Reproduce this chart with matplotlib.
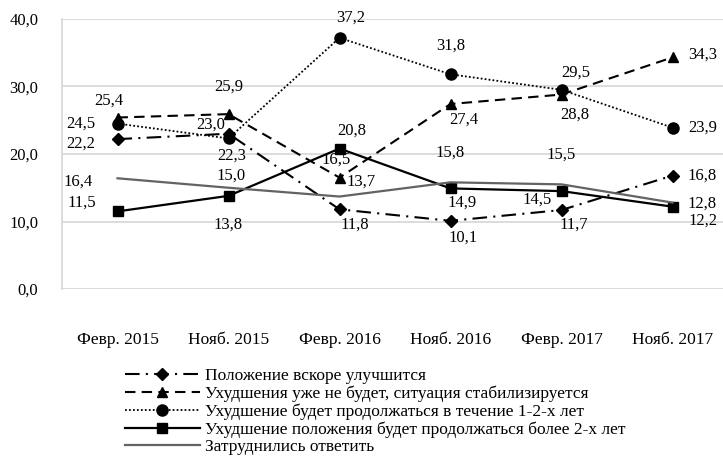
import matplotlib
matplotlib.use('Agg')
import matplotlib.pyplot as plt
import numpy as np

plt.rcParams['font.family'] = ['Liberation Serif', 'DejaVu Serif']

periods = ['Февр. 2015', 'Нояб. 2015', 'Февр. 2016', 'Нояб. 2016', 'Февр. 2017', 'Нояб. 2017']

improve_soon = [22.2, 23.0, 11.8, 10.1, 11.7, 16.8]
stabilize = [25.4, 25.9, 16.5, 27.4, 28.8, 34.3]
worse_1_2 = [24.5, 22.3, 37.2, 31.8, 29.5, 23.9]
worse_more_2 = [11.5, 13.8, 20.8, 14.9, 14.5, 12.2]
hard_to_say = [16.4, 15.0, 13.7, 15.8, 15.5, 12.8]

names = [
    'Положение вскоре улучшится',
    'Ухудшения уже не будет, ситуация стабилизируется',
    'Ухудшение будет продолжаться в течение 1-2-х лет',
    'Ухудшение положения будет продолжаться более 2-х лет',
    'Затруднились ответить',
]

# label offsets in pixels (dx, dy), dy positive = up
label_offsets = [
    [(-37, -5), (-18, 9), (15, -15), (13, -17), (12, -15), (30, 0)],
    [(-9, 17), (0, 27), (-3, 18), (13, -16), (13, -20), (30, 3)],
    [(-37, 0), (3, -17), (11, 20), (0, 29), (14, 17), (30, 0)],
    [(-36, 9), (0, -29), (12, 18), (12, -14), (-24, -9), (30, -14)],
    [(-39, -3), (3, 12), (22, 15), (0, 30), (0, 30), (30, -1)],
]

styles = [
    dict(color='black', lw=1.5, dashes=(7, 3, 1, 3), marker='D', ms=6),
    dict(color='black', lw=1.5, dashes=(5, 3), marker='^', ms=7.5),
    dict(color='black', lw=1.3, dashes=(1, 1.2), marker='o', ms=8),
    dict(color='black', lw=1.6, linestyle='-', marker='s', ms=7),
    dict(color='#636363', lw=1.6, linestyle='-', marker=None, ms=0),
]

fig = plt.figure(figsize=(7.23, 4.61), dpi=100)
ax = fig.add_axes([62 / 723, 0.373, 666 / 723, 0.586])

x = np.arange(len(periods))
series = [improve_soon, stabilize, worse_1_2, worse_more_2, hard_to_say]
for vals, name, st, offs in zip(series, names, styles, label_offsets):
    ax.plot(x, vals, label=name, markeredgecolor=st['color'], markerfacecolor=st['color'], **st)
    for xi, v, (dx, dy) in zip(x, vals, offs):
        ax.annotate(f'{v:.1f}'.replace('.', ','), (xi, v), xytext=(dx, dy),
                    textcoords='offset pixels', ha='center', va='center',
                    fontsize=12, color='black')

ax.set_xlim(-0.5, 5.5)
ax.set_ylim(0, 40)
ax.set_yticks([0, 10, 20, 30, 40])
ax.set_yticklabels([f'{t:.1f}'.replace('.', ',') for t in [0, 10, 20, 30, 40]], fontsize=12)
ax.set_xticks(x)
ax.set_xticklabels(periods, fontsize=12.5)
ax.tick_params(axis='both', length=0)
ax.tick_params(axis='y', pad=17)
ax.tick_params(axis='x', pad=31)
ax.grid(which='major', axis='y', color='#d9d9d9', lw=1.3)
ax.set_axisbelow(True)
for s in ['top', 'right', 'bottom']:
    ax.spines[s].set_visible(False)
ax.spines['left'].set_color('#d9d9d9')
ax.spines['left'].set_linewidth(1.3)

handles, labels = ax.get_legend_handles_labels()
fig.legend(handles, labels, loc='upper left', bbox_to_anchor=(125 / 723, 1 - 368 / 461),
           frameon=False, fontsize=12.5, handlelength=4.3, handletextpad=0.29,
           labelspacing=0.08, borderpad=0, borderaxespad=0)

fig.savefig('out.png', dpi=100)
